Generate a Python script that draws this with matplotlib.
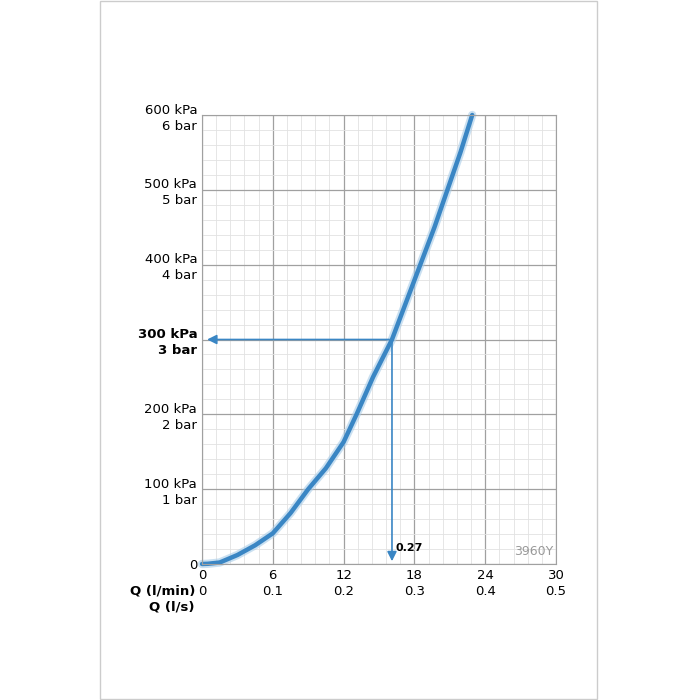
import matplotlib
matplotlib.use("Agg")
import matplotlib.pyplot as plt
from matplotlib.patches import Rectangle
import numpy as np

q = [0, 0.5, 1.5, 3, 4.5, 6, 7.5, 9, 10.5, 12, 13.1, 14.5, 16.1, 17.3, 18.5, 19.7, 20.8, 21.9, 22.9]
p = [0, 0.3, 2, 12, 25, 41, 68, 100, 128, 163, 200, 250, 300, 350, 400, 450, 500, 550, 600]
xt_lmin = ['0', '6', '12', '18', '24', '30']
xt_ls = ['0', '0.1', '0.2', '0.3', '0.4', '0.5']
yt = ['0', '100 kPa\n1 bar', '200 kPa\n2 bar', '300 kPa\n3 bar', '400 kPa\n4 bar', '500 kPa\n5 bar', '600 kPa\n6 bar']
q_op, p_op = 16.1, 300

fig = plt.figure(figsize=(7, 7), dpi=100)
fig.patches.append(Rectangle((100/700, 0.002), 497/700, 0.996, transform=fig.transFigure,
                             fill=False, edgecolor='#cccccc', lw=1))
ax = fig.add_axes([202/700, 1-564/700, 354/700, 449/700])
ax.set_xlim(0, 30); ax.set_ylim(0, 600)
ax.set_xticks(np.arange(0, 31, 6)); ax.set_yticks(np.arange(0, 601, 100))
ax.set_xticks(np.arange(0, 30.1, 1.2), minor=True); ax.set_yticks(np.arange(0, 601, 20), minor=True)
ax.grid(which='major', color='#a0a0a0', lw=0.9)
ax.grid(which='minor', color='#e2e2e2', lw=0.6)
ax.set_axisbelow(True)
for s in ax.spines.values():
    s.set_color('#a0a0a0')
ax.tick_params(which='both', length=0)
ax.set_xticklabels([a + '\n' + b for a, b in zip(xt_lmin, xt_ls)], fontsize=9.5, linespacing=1.3)
ax.set_yticklabels(yt, fontsize=9.5, linespacing=1.3)
for lab in ax.get_yticklabels():
    if lab.get_text().startswith('300'):
        lab.set_fontweight('bold')
ax.text(-0.02, -0.045, 'Q (l/min)\nQ (l/s)', transform=ax.transAxes, ha='right', va='top',
        fontsize=9.5, fontweight='bold', linespacing=1.3)
ax.plot(q, p, color='#a8cce8', lw=6, alpha=0.6, solid_capstyle='round', clip_on=False)
ax.plot(q, p, color='#3a86c4', lw=3.2, solid_capstyle='round', clip_on=False)
ax.annotate('', xy=(0.2, p_op), xytext=(q_op, p_op),
            arrowprops=dict(arrowstyle='-|>', color='#3a86c4', lw=1.2, mutation_scale=14))
ax.annotate('', xy=(q_op, 0), xytext=(q_op, p_op),
            arrowprops=dict(arrowstyle='-|>', color='#3a86c4', lw=1.2, mutation_scale=14))
ax.text(q_op + 0.3, 22, '0.27', fontsize=8, fontweight='bold', ha='left', va='center')
ax.text(29.8, 8, '3960Y', fontsize=9, color='#999999', ha='right', va='bottom')
fig.savefig('out.png', dpi=100)
